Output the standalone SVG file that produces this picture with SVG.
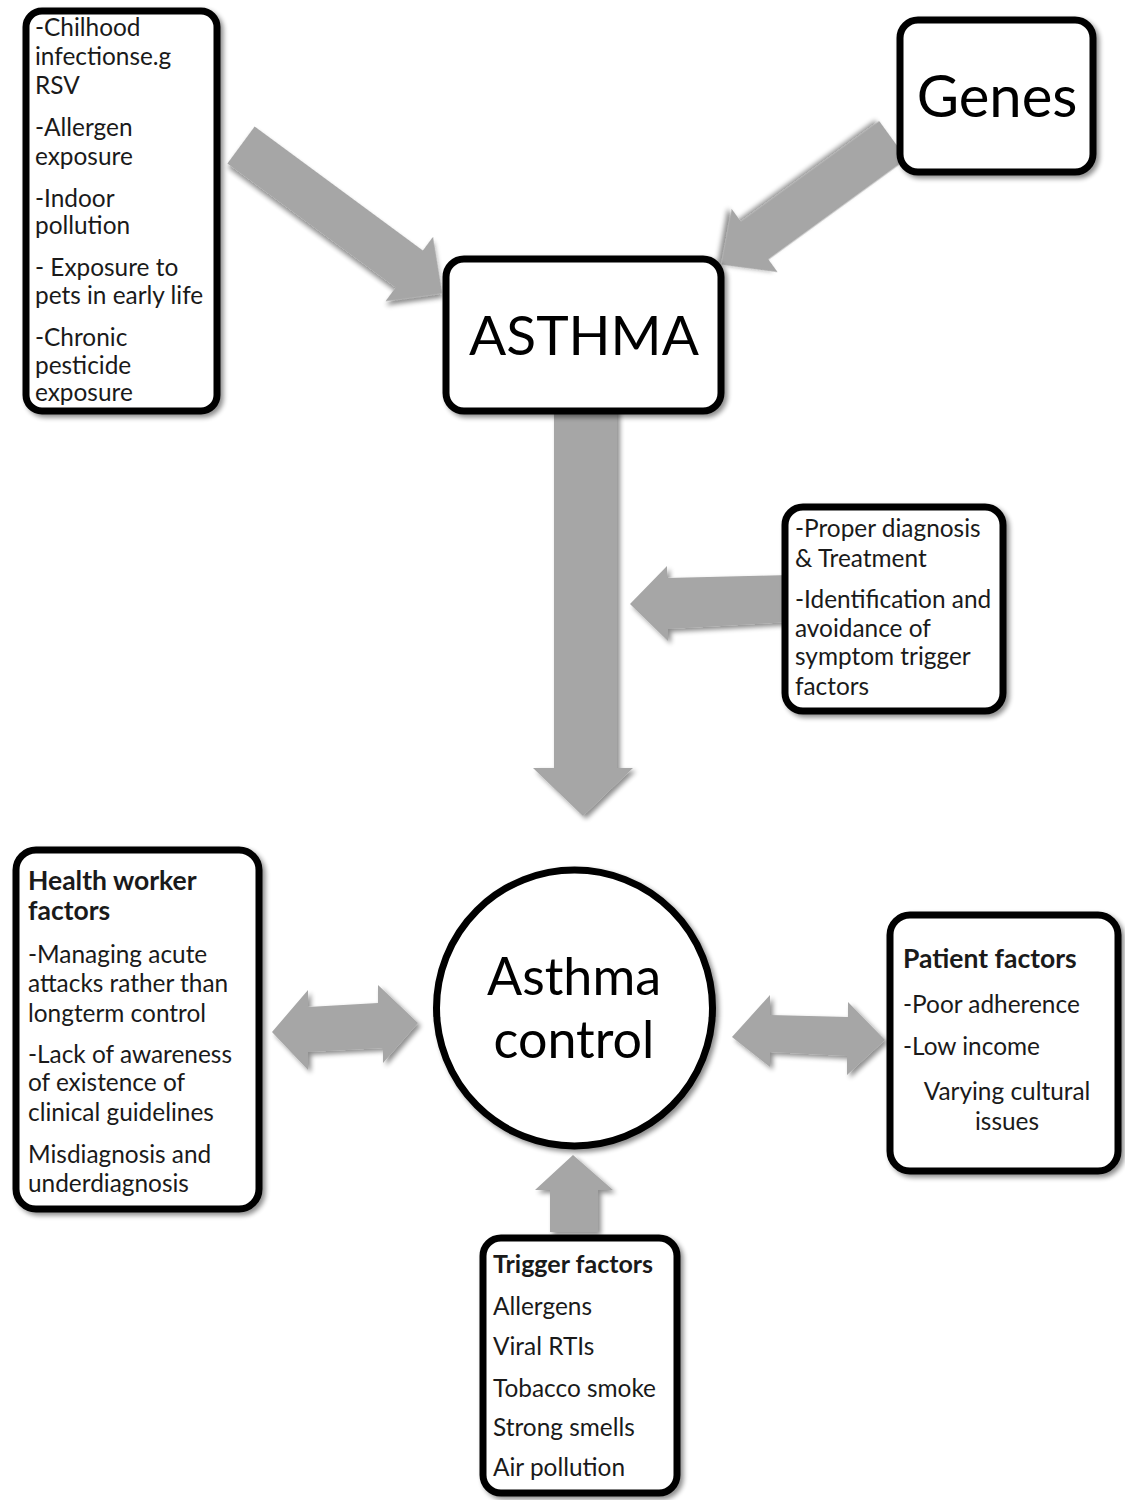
<svg xmlns="http://www.w3.org/2000/svg" width="1125" height="1500" viewBox="0 0 1125 1500">
<defs>
<filter id="sh" x="-15%" y="-15%" width="135%" height="135%">
<feGaussianBlur in="SourceAlpha" stdDeviation="2.5"/>
<feOffset dx="3" dy="3"/>
<feComponentTransfer><feFuncA type="linear" slope="0.45"/></feComponentTransfer>
<feMerge><feMergeNode/><feMergeNode in="SourceGraphic"/></feMerge>
</filter>
<style>
.box{fill:#fff;stroke:#000;stroke-width:7;filter:url(#sh)}
.arr{fill:#a6a6a6;stroke:none;filter:url(#sh)}
.t{font-family:Lato,"Liberation Sans",sans-serif;font-size:24.4px;fill:#1a1a1a}
.b{font-weight:bold;font-size:26.5px}
.b2{font-weight:bold;font-size:25px}
.big{font-family:Lato,"Liberation Sans",sans-serif;fill:#000}
</style>
</defs>
<rect width="1125" height="1500" fill="#fff"/>
<g id="connectors">
<polygon class="arr" transform="translate(241,145) rotate(36.4)" points="0,-23 209,-23 209,-40 250,0 209,40 209,23 0,23"/>
<polygon class="arr" transform="translate(893,140) rotate(144)" points="0,-23.5 171,-23.5 171,-39 212,0 171,39 171,23.5 0,23.5"/>
<polygon class="arr" points="554,405 617,405 617,768 633,768 583,816 533,768 554,768"/>
<polygon class="arr" points="630,604 667,566 667,578 790,575 790,622 668,629 668,641"/>
<polygon class="arr" points="272,1032 308,990 308,1007 378,1003 378,985 418,1023 383,1063 383,1048 308,1052 308,1070"/>
<polygon class="arr" points="732,1037 770,995 770,1015 848,1017 848,1002 885,1040 847,1075 847,1056 770,1052 770,1067"/>
<polygon class="arr" points="573,1155 613,1190 598,1190 598,1232 550,1232 550,1190 535,1190"/>
</g>
<g id="node-environment">
<rect class="box" x="26" y="11" width="191" height="400" rx="16"/>
<text class="t" x="35" y="36">-Chilhood</text>
<text class="t" x="35" y="65">infectionse.g</text>
<text class="t" x="35" y="94">RSV</text>
<text class="t" x="35" y="136">-Allergen</text>
<text class="t" x="35" y="165">exposure</text>
<text class="t" x="35" y="207">-Indoor</text>
<text class="t" x="35" y="234">pollution</text>
<text class="t" x="35" y="276">- Exposure to</text>
<text class="t" x="35" y="304">pets in early life</text>
<text class="t" x="35" y="346">-Chronic</text>
<text class="t" x="35" y="374">pesticide</text>
<text class="t" x="35" y="401">exposure</text>
</g>
<g id="node-genes">
<rect class="box" x="900" y="20" width="193" height="152" rx="18"/>
<text class="big" x="997" y="117" font-size="58" text-anchor="middle">Genes</text>
</g>
<g id="node-asthma">
<rect class="box" x="446" y="259" width="275" height="152" rx="18"/>
<text class="big" x="584" y="355" font-size="55" text-anchor="middle">ASTHMA</text>
</g>
<g id="node-management">
<rect class="box" x="785" y="507" width="218" height="204" rx="18"/>
<text class="t" x="795" y="537">-Proper diagnosis</text>
<text class="t" x="795" y="567">&amp; Treatment</text>
<text class="t" x="795" y="608">-Identification and</text>
<text class="t" x="795" y="637">avoidance of</text>
<text class="t" x="795" y="665">symptom trigger</text>
<text class="t" x="795" y="695">factors</text>
</g>
<g id="node-health-worker">
<rect class="box" x="16" y="850" width="243" height="359" rx="20"/>
<text class="t b" x="28" y="890">Health worker</text>
<text class="t b" x="28" y="920">factors</text>
<text class="t" x="28" y="963">-Managing acute</text>
<text class="t" x="28" y="992">attacks rather than</text>
<text class="t" x="28" y="1022">longterm control</text>
<text class="t" x="28" y="1063">-Lack of awareness</text>
<text class="t" x="28" y="1091">of existence of</text>
<text class="t" x="28" y="1121">clinical guidelines</text>
<text class="t" x="28" y="1163">Misdiagnosis and</text>
<text class="t" x="28" y="1192">underdiagnosis</text>
</g>
<g id="node-asthma-control">
<circle class="box" cx="574.5" cy="1008" r="138"/>
<text class="big" x="574" y="995" font-size="52" text-anchor="middle">Asthma</text>
<text class="big" x="574" y="1058" font-size="52" text-anchor="middle">control</text>
</g>
<g id="node-patient">
<rect class="box" x="890" y="915" width="228" height="256" rx="20"/>
<text class="t b" x="903" y="968">Patient factors</text>
<text class="t" x="903" y="1013">-Poor adherence</text>
<text class="t" x="903" y="1055">-Low income</text>
<text class="t" x="1007" y="1100" text-anchor="middle">Varying cultural</text>
<text class="t" x="1007" y="1130" text-anchor="middle">issues</text>
</g>
<g id="node-trigger">
<rect class="box" x="483" y="1238" width="194" height="255" rx="18"/>
<text class="t b2" x="493" y="1273">Trigger factors</text>
<text class="t" x="493" y="1315">Allergens</text>
<text class="t" x="493" y="1355">Viral RTIs</text>
<text class="t" x="493" y="1397">Tobacco smoke</text>
<text class="t" x="493" y="1436">Strong smells</text>
<text class="t" x="493" y="1476">Air pollution</text>
</g>
</svg>
